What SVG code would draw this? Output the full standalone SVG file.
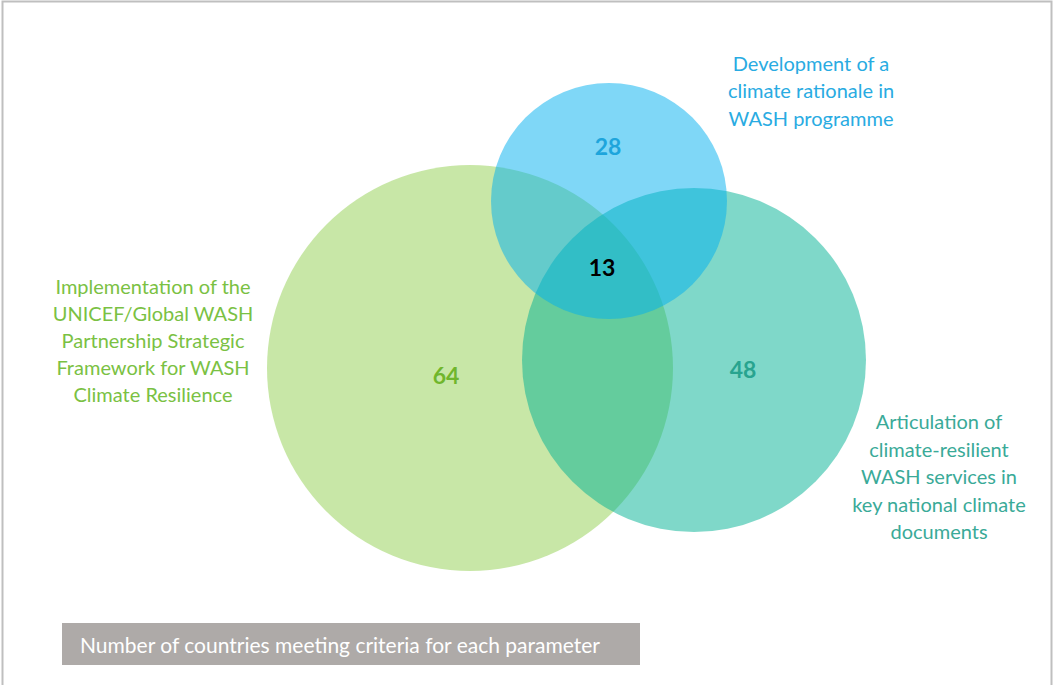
<svg xmlns="http://www.w3.org/2000/svg" width="1054" height="685" viewBox="0 0 1054 685">
<style>
.lbl{font-family:Lato,"Liberation Sans",sans-serif;font-size:20px;text-anchor:middle}
.num{font-family:Lato,"Liberation Sans",sans-serif;font-size:23px;font-weight:bold;text-anchor:middle}
</style>
<rect x="0" y="0" width="1054" height="685" fill="#ffffff"/>
<rect x="2.5" y="1.5" width="1049" height="690" fill="none" stroke="#bfbfbf" stroke-width="2"/>
<g id="circle-green"><circle cx="470" cy="368" r="203" fill="#92d050" fill-opacity="0.5"/></g>
<g id="circle-teal"><circle cx="694" cy="360" r="172" fill="#00b294" fill-opacity="0.5"/></g>
<g id="circle-blue"><circle cx="609" cy="201" r="118" fill="#00b0f0" fill-opacity="0.5"/></g>
<g id="label-blue" fill="#29abe2">
<text class="lbl" x="811" y="71">Development of a</text>
<text class="lbl" x="811" y="98">climate rationale in</text>
<text class="lbl" x="811" y="126">WASH programme</text>
</g>
<g id="label-green" fill="#7ac143">
<text class="lbl" x="153" y="294">Implementation of the</text>
<text class="lbl" x="153" y="321">UNICEF/Global WASH</text>
<text class="lbl" x="153" y="348">Partnership Strategic</text>
<text class="lbl" x="153" y="375">Framework for WASH</text>
<text class="lbl" x="153" y="402">Climate Resilience</text>
</g>
<g id="label-teal" fill="#3aaa98">
<text class="lbl" x="939" y="429">Articulation of</text>
<text class="lbl" x="939" y="457">climate-resilient</text>
<text class="lbl" x="939" y="484">WASH services in</text>
<text class="lbl" x="939" y="512">key national climate</text>
<text class="lbl" x="939" y="539">documents</text>
</g>
<g id="numbers">
<text class="num" x="608" y="155" fill="#1ea5dc">28</text>
<text class="num" x="602" y="276" fill="#000000">13</text>
<text class="num" x="446" y="384" fill="#70b62c">64</text>
<text class="num" x="743" y="378" fill="#28a48f">48</text>
</g>
<g id="legend">
<rect x="62" y="623" width="578" height="42" fill="#aeaaa8"/>
<text x="80" y="653" font-family="Lato,'Liberation Sans',sans-serif" font-size="21px" fill="#ffffff">Number of countries meeting criteria for each parameter</text>
</g>
<g id="connectors"></g>
</svg>
